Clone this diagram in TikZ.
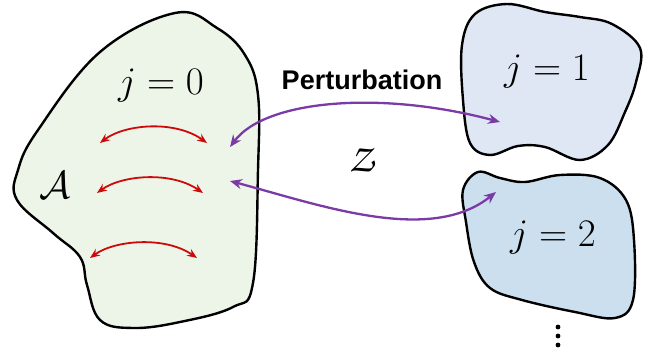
\RequirePackage{fix-cm}
\documentclass[tikz,border=0pt]{standalone}
\usepackage{fontspec}
\newfontfamily\labelfont{Liberation Sans}
\DeclareMathAlphabet{\mathpzc}{OT1}{pzc}{m}{it}
\usetikzlibrary{arrows.meta}
\definecolor{blobgreen}{HTML}{EDF5E8}
\definecolor{blobA}{HTML}{E0E7F4}
\definecolor{blobB}{HTML}{CCDFEF}
\definecolor{purp}{HTML}{7A3BA6}
\definecolor{redarr}{HTML}{CC0A0A}
\tikzset{
  blob/.style={draw=black, line width=2.4pt},
  redarrow/.style={draw=redarr, line width=1.8pt, {Stealth[length=10pt,width=8pt,inset=3.5pt]}-{Stealth[length=10pt,width=8pt,inset=3.5pt]}},
  purparrow/.style={draw=purp, line width=2.3pt, {Stealth[length=12pt,width=10pt,inset=4pt]}-{Stealth[length=12pt,width=10pt,inset=4pt]}},
  mathlbl/.style={inner sep=0pt, font=\fontsize{39}{45}\selectfont},
}
\begin{document}
\begin{tikzpicture}[x=1pt,y=-1pt]
\useasboundingbox (0,0) rectangle (667,356);
% left blob
\filldraw[blob, fill=blobgreen] plot[smooth cycle, tension=0.65] coordinates {
 (175,13) (217,28) (245,55) (258,95) (258,170) (253,283) (233,307) (180,322)
 (133,328) (100,320) (87,285) (80,257) (53,233) (17,200) (18,170) (38,130) (100,52)};
% right blob 1
\filldraw[blob, fill=blobA] plot[smooth cycle, tension=0.6] coordinates {
 (462,45) (475,14) (507,4) (545,12) (580,17) (612,24) (640,48) (636,82) (625,112)
 (608,145) (580,160) (545,147) (518,146) (490,155) (470,143) (463,100)};
% right blob 2
\filldraw[blob, fill=blobB] plot[smooth cycle, tension=0.6] coordinates {
 (463,190) (478,172) (500,178) (525,182) (560,175) (600,178) (626,200) (634,240)
 (633,300) (615,318) (575,312) (522,300) (490,288) (474,262) (466,222)};
% labels
\node[mathlbl] (j0) at (161,86) {$j=0$};
\node[mathlbl] (j1) at (547,72) {$j=1$};
\node[mathlbl] (j2) at (553,238) {$j=2$};
\node[mathlbl] (A) at (55,185) {$\mathcal{A}$};
\node[mathlbl] (Z) at (362,160) {$\mathpzc{Z}$};
\node[inner sep=0pt, font=\labelfont\bfseries\fontsize{27}{32}\selectfont] (pert) at (362,80) {Perturbation};
% dots
\node[inner sep=0pt] (dots) at (558,336) {};
\fill (558,327) circle (2.4pt) (558,336) circle (2.4pt) (558,345) circle (2.4pt);
% red arrows
\coordinate (r1a) at (100,143); \coordinate (r1b) at (207,143);
\coordinate (r2a) at (97,193);  \coordinate (r2b) at (203,193);
\coordinate (r3a) at (90,258);  \coordinate (r3b) at (197,258);
\draw[redarrow] (r1a) .. controls (125,124) and (175,120) .. (r1b);
\draw[redarrow] (r2a) .. controls (122,175) and (171,171) .. (r2b);
\draw[redarrow] (r3a) .. controls (115,240) and (165,236) .. (r3b);
% purple arrows
\coordinate (p1a) at (230,147); \coordinate (p1b) at (500,122);
\coordinate (p2a) at (230,181); \coordinate (p2b) at (496,192);
\draw[purparrow] (p1a) .. controls (265,100) and (380,90) .. (p1b);
\draw[purparrow] (p2a) .. controls (320,205) and (430,245) .. (p2b);
\end{tikzpicture}
\end{document}
